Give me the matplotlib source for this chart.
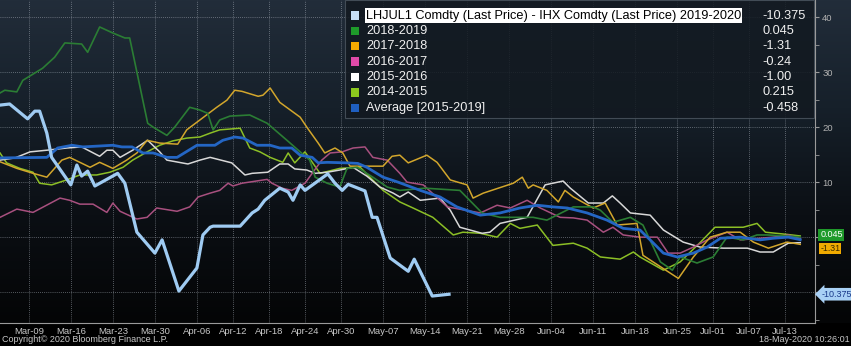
import numpy as np
import pandas as pd
import matplotlib
matplotlib.use("Agg")
import matplotlib.pyplot as plt
import matplotlib.transforms as mtransforms
from matplotlib.colors import LinearSegmentedColormap
from matplotlib.patches import Rectangle

plt.rcParams['font.family'] = ['Liberation Sans', 'DejaVu Sans']

# days are counted from Mar-09 (2020 calendar used for the season axis)
base = pd.Timestamp("2020-03-09")

# 2019-2020
d_1920 = [-4.8, -3.2, -0.2, 1, 1.8, 3, 3.8, 7, 8, 8.8, 9.8, 11, 14.8, 16, 18, 21, 22.2, 25, 28, 29,
          30.2, 30.7, 35.2, 37.2, 38.2, 39.3, 41.8, 43.2, 44, 45.2, 46, 49.8, 51, 52.2, 53.2, 56, 57.2,
          58, 60.2, 63.2, 64.2, 67.2, 70]
v_1920 = [24, 24.2, 21.5, 22.9, 22.9, 18.9, 14.5, 9.5, 13.1, 11.1, 12, 9.3, 11.6, 9.8, 0.9, -2.9, -0.5,
          -9.8, -5.6, 0.4, 1.8, 2, 2, 4.4, 5.1, 6.7, 8.9, 8.2, 6.7, 9.5, 8.5, 11.5, 9.8, 8.5, 9.6, 8.4,
          3.6, 3.6, -3.8, -6.2, -4, -10.7, -10.375]

# 2018-2019
d_1819 = [-4.8, -4, -2, -1, 2.3, 4.3, 6, 8.8, 9.8, 11.8, 14, 16, 16.8, 19.8, 20.7, 23, 24.3, 26.8, 28.5,
          29.8, 30.7, 31.8, 33.5, 36.8, 39.7, 43, 45.2, 46.8, 47.7, 49.7, 51.8, 53, 54.7, 57.3, 59.7,
          61.8, 66, 71.8, 75.5, 78.5, 84, 86.3, 90.7, 94, 95.2, 97.3, 100.2, 102.3, 105.2, 107.2, 108.5,
          111.3, 114, 116.3, 119, 121.3, 123, 126.3, 128.5]
v_1819 = [26.2, 26.7, 26.4, 28.5, 30.7, 32.7, 35.3, 35.1, 33.6, 38.2, 37.1, 36.2, 36.2, 20.7, 20, 18.5,
          20, 23.6, 23.1, 22.5, 19.5, 21.3, 22, 22.2, 20.7, 17.6, 15.5, 14, 10.9, 9.8, 9.1, 12.5, 12.7,
          10.9, 9.1, 8.5, 8.9, 8.5, 4.4, 3.6, 3.6, 3.1, 5.5, 5.5, 4.9, 2.7, 3.6, 2.2, -4.5, -6, -3.6,
          -4.7, -3.6, 0, -0.5, 0.4, 0.4, 0.2, 0.045]

# 2017-2018
d_1718 = [-4.8, -2, 0.7, 3, 5.5, 6.8, 8.5, 10.2, 11.8, 14, 16.3, 18, 19.7, 21.8, 24.8, 26.3, 28.5, 31.3,
          33, 34.3, 35.5, 38.2, 39, 40.2, 41.8, 45.2, 46.3, 48.2, 49.3, 51, 52.3, 53.5, 59, 60.5, 61.8,
          63.2, 66.3, 68, 70.2, 73, 74, 75.7, 80.7, 82.2, 83.2, 84, 86.3, 88.2, 89.3, 90.7, 94, 96, 98,
          101.3, 102.3, 108.2, 110.7, 113.5, 116.3, 118.5, 120.7, 123.2, 126.3, 128.5]
v_1718 = [13.7, 12.5, 11.6, 10.9, 14, 14.5, 13.6, 12.7, 13.6, 12.5, 14, 15.3, 17.6, 17.1, 16.9, 19.5,
          21.3, 23.6, 24.9, 26.7, 26.5, 25.6, 25.8, 27.1, 24.5, 21.8, 20, 17.1, 15.3, 16.2, 15.3, 12.9,
          12.9, 14.7, 14.9, 13.5, 14.9, 13.6, 10.4, 9.5, 7.1, 8, 9.8, 10.9, 8.9, 9.5, 8.5, 6.4, 8.5, 7.3,
          5.3, 6.2, 2.2, 2.5, -3.3, -7.5, -3.6, 0, 0.9, 0.9, -0.9, -2, -0.9, -1.31]

# 2016-2017
d_1617 = [-4.8, -2, 0.7, 5.2, 6.8, 8.5, 10.7, 13, 14, 15.2, 18, 19.7, 21.3, 24.7, 26.8, 28.2, 30.2, 31.8,
          33.2, 34, 35.5, 39.7, 40.5, 42.2, 43.8, 46, 48.8, 50.2, 52.2, 54, 56, 57.3, 59.7, 61.8, 63,
          65.7, 69.7, 75.2, 78, 80.2, 83, 85.2, 88.5, 90.7, 93, 95.7, 97.3, 99, 101.8, 104.7, 106.5,
          108.5, 110.7, 113, 116.3, 118.5, 121.8, 124, 126.5, 128.5]
v_1617 = [3.6, 5.1, 4.5, 7.1, 6.7, 6, 6, 4.5, 6.2, 4.7, 3.3, 3.6, 5.3, 4.7, 5.5, 7.3, 8, 8.5, 9.8, 9.3,
          9.8, 10.5, 9.8, 8.9, 8.5, 9.8, 14, 15.3, 15.5, 16.2, 16.4, 14.5, 14, 11.6, 10, 9.5, 5.5, 4.4,
          5.8, 5.3, 6.7, 5.3, 3.6, 3.5, 3.1, 0.9, 1.8, 0.4, 0, 0, -2.9, -2.9, -1.8, -0.5, 0.9, -0.5,
          -0.2, 0, 0.4, -0.24]

# 2015-2016
d_1516 = [-4.8, -2.3, 0.2, 3, 6.3, 8.8, 11.8, 13, 14, 15.2, 17.3, 19.8, 21.8, 23, 26.5, 28.5, 30.2, 33.8,
          36, 37.2, 39.8, 41.8, 43.2, 44.3, 46.3, 47.7, 49.7, 51.8, 54, 56.3, 58.5, 60.7, 61.8, 63.2,
          65.2, 68.5, 70.2, 71.8, 75.5, 76.8, 78.5, 83, 86, 89, 90.2, 93.2, 95.7, 97.2, 98.5, 100.2,
          103.5, 105.7, 109, 111.8, 115.7, 119.7, 121.8, 124, 126.5, 128.5]
v_1516 = [14, 14.4, 15.5, 15.8, 16.2, 16.4, 14.7, 15.8, 15.8, 14.5, 15.8, 17.6, 15.5, 14, 13.3, 14, 14.5,
          13.5, 11.3, 11.6, 11.8, 13.3, 13.3, 12.4, 12.2, 11.6, 11.8, 12.2, 12.7, 11.1, 9.1, 8, 7.3, 8.2,
          6.7, 7.1, 4.9, 1.8, 0.7, 0.9, 2.5, 3.6, 9.5, 10.2, 8.9, 6.2, 6.2, 7.5, 6.2, 4.4, 4, 1.3, -0.9,
          -1.8, -2, -2, -2.7, -2.7, -1.1, -1.0]

# 2014-2015
d_1415 = [-4.8, -3.7, -1.5, 0.7, 1.8, 3.8, 6.3, 8.5, 11.3, 13.5, 15.7, 17.3, 19.7, 21.8, 24, 26.3, 28.5,
          30.2, 31.8, 35.2, 36.8, 38.5, 40.2, 42.3, 43.2, 44.3, 46, 48.5, 51.8, 55.2, 59, 61.8, 64, 67.3,
          70.7, 72.3, 75.2, 78, 80.2, 81.8, 84.7, 87.3, 90.7, 93, 95.2, 98.5, 100.7, 101.8, 105.7, 108.5,
          111.8, 114.3, 119, 121.3, 122.7, 126.3, 128.5]
v_1415 = [15.3, 13.5, 12.5, 11.8, 9.8, 9.5, 10.4, 11.3, 11.3, 11.8, 12.7, 14, 15.5, 16.7, 17.5, 18, 18.2,
          18.9, 19.5, 19.8, 16.2, 15.5, 14.5, 13.6, 15.3, 13.5, 15.5, 11.6, 12.5, 12.7, 8.5, 6.4, 5.3,
          3.6, 0.4, 0.9, 0.7, 0, 2.5, 1.6, 2.2, -1.5, -1.1, -2, -3.6, -4, -2.7, -3.6, -6, -4.5, -1, 1.8,
          1.8, 2.5, 0.9, 0.5, 0.215]

# Average [2015-2019]
d_avg = [-4.8, 3, 4.8, 7.2, 9, 14, 15.5, 17.2, 19, 20.7, 23, 24.7, 28, 31, 32.3, 34.3, 35.7, 38, 40.2,
         41.8, 43.8, 45.2, 47.2, 48.2, 49.7, 53, 54.8, 56.3, 59, 61.5, 65.2, 68.5, 71.3, 75.2, 78.5,
         81.8, 84.7, 87.3, 89.7, 93, 96.3, 99, 101.8, 103.5, 105.7, 108, 110.7, 113, 115.2, 118.5,
         121.8, 124, 126.5, 128.5]
v_avg = [14.4, 14.5, 16.2, 16.7, 16.4, 16.7, 16.4, 16.4, 15.3, 15.3, 14.5, 14.5, 16.7, 16.7, 17.6, 18.2,
         18, 16.7, 16.7, 16.2, 16.2, 14.9, 14.5, 13.5, 13.6, 13.5, 13.4, 12.7, 10.9, 10, 8.5, 7.3, 5.5,
         4, 4.4, 5.3, 5.8, 5.5, 5.3, 4.4, 3.1, 1.6, 1.3, -0.5, -2.9, -3.6, -2.9, -1.8, -0.2, 0, -0.5,
         -0.2, 0, -0.458]

legend_names = ["LHJUL1 Comdty (Last Price) - IHX Comdty (Last Price) 2019-2020",
                "2018-2019", "2017-2018", "2016-2017", "2015-2016", "2014-2015",
                "Average [2015-2019]"]
legend_values = ["-10.375", "0.045", "-1.31", "-0.24", "-1.00", "0.215", "-0.458"]

tick_dates = ["2020-03-09", "2020-03-16", "2020-03-23", "2020-03-30", "2020-04-06", "2020-04-12",
              "2020-04-18", "2020-04-24", "2020-04-30", "2020-05-07", "2020-05-14", "2020-05-21",
              "2020-05-28", "2020-06-04", "2020-06-11", "2020-06-18", "2020-06-25", "2020-07-01",
              "2020-07-07", "2020-07-13"]
tick_labels = ["Mar-09", "Mar-16", "Mar-23", "Mar-30", "Apr-06", "Apr-12", "Apr-18", "Apr-24",
               "Apr-30", "May-07", "May-14", "May-21", "May-28", "Jun-04", "Jun-11", "Jun-18",
               "Jun-25", "Jul-01", "Jul-07", "Jul-13"]
y_ticks = [-10, 0, 10, 20, 30, 40]
y_labels = ["", "", "10", "20", "30", "40"]  # 0 and -10 sit under the last-value tags


def to_dates(days):
    return base + pd.to_timedelta(np.array(days), unit="D")


# line colour, legend square colour, width, z
series = [
    (d_1415, v_1415, '#8cbf26', '#8cc81e', 1.1, 3),
    (d_1516, v_1516, '#d8d8d8', '#ffffff', 1.1, 3),
    (d_1617, v_1617, '#a8507f', '#e04aa8', 1.1, 3),
    (d_1718, v_1718, '#d2a62c', '#f5aa00', 1.1, 3),
    (d_1819, v_1819, '#2b7d34', '#1e9a2a', 1.2, 3),
    (d_avg, v_avg, '#2466c4', '#1f5fc0', 2.0, 4),
    (d_1920, v_1920, '#9fcbf2', '#c8e0f8', 2.3, 5),
]

fig = plt.figure(figsize=(8.51, 3.46), dpi=100, facecolor='black')

# gradient background behind the plot
bg = fig.add_axes([0, 0.0665, 1, 0.9335])
bg.axis('off')
cmap = LinearSegmentedColormap.from_list("bbg", ['#040506', '#0b0f14', '#16202a', '#222d3a'])
grad = np.linspace(0, 1, 256).reshape(-1, 1)
bg.imshow(grad, aspect='auto', cmap=cmap, origin='lower', extent=[0, 1, 0, 1])

ax = fig.add_axes([0, 0.0665, 0.958, 0.9335])
ax.set_facecolor('none')

for d, v, c, lc, lw, z in series:
    ax.plot(to_dates(d), v, color=c, lw=lw, zorder=z)

ax.set_xlim(base + pd.Timedelta(days=-4.8), base + pd.Timedelta(days=131))
ax.set_ylim(-15.6, 43.1)

ax.set_xticks(pd.to_datetime(tick_dates))
ax.set_xticklabels(tick_labels)
ax.yaxis.tick_right()
ax.set_yticks(y_ticks)
ax.set_yticklabels(y_labels)
ax.set_yticks([-15, -5, 5, 15, 25, 35], minor=True)

ax.grid(True, which='major', color='#b8c0ca', linestyle=(0, (1, 1.5)), linewidth=0.6, alpha=0.6)
ax.tick_params(axis='x', length=0, pad=3, labelsize=6.8, labelcolor='#c8c8c8')
ax.tick_params(axis='y', which='both', direction='out', length=3, color='#9a9a9a',
               labelsize=6.8, labelcolor='#b0b0b0', pad=2)

for s in ['left', 'top']:
    ax.spines[s].set_visible(False)
for s in ['right', 'bottom']:
    ax.spines[s].set_color('#9a9a9a')
    ax.spines[s].set_linewidth(0.8)

# legend panel
ax.add_patch(Rectangle((0.423, 0.636), 0.575, 0.364, transform=ax.transAxes,
                       facecolor='#121920', edgecolor='#4a545e', lw=0.8, alpha=0.85, zorder=6))
legend_order = [6, 4, 3, 2, 1, 0, 5]
for i, (name, val) in enumerate(zip(legend_names, legend_values)):
    y = 0.952 - i * 0.0476
    sq_col = series[legend_order[i]][3]
    ax.add_patch(Rectangle((0.4305, y - 0.013), 0.0095, 0.026, transform=ax.transAxes,
                           facecolor=sq_col, edgecolor='none', zorder=7))
    if i == 0:
        ax.text(0.449, y, name, transform=ax.transAxes, fontsize=9.2, color='black', va='center',
                ha='left', zorder=8,
                bbox=dict(boxstyle='square,pad=0.08', facecolor='white', edgecolor='none'))
    else:
        ax.text(0.449, y, name, transform=ax.transAxes, fontsize=9.2, color='#f0f0f0', va='center',
                ha='left', zorder=8)
    ax.text(0.935, y, val, transform=ax.transAxes, fontsize=9.2, color='#f0f0f0', va='center',
            ha='left', zorder=8)

# right-hand last value tags
trans = mtransforms.blended_transform_factory(ax.transAxes, ax.transData)
ax.text(1.006, -2.0, "-1.31", transform=trans, fontsize=6.3, color='#3a2a00', va='center', ha='left',
        clip_on=False, zorder=9,
        bbox=dict(boxstyle='square,pad=0.1', facecolor='#f0aa00', edgecolor='none'))
ax.text(1.006, 0.4, "0.045", transform=trans, fontsize=6.5, color='white', va='center', ha='left',
        clip_on=False, zorder=10,
        bbox=dict(boxstyle='square,pad=0.2', facecolor='#1f9a2a', edgecolor='none'))
ax.text(1.008, -10.375, "-10.375", transform=trans, fontsize=6.5, color='#1a3a8a', va='center',
        ha='left', clip_on=False, zorder=10,
        bbox=dict(boxstyle='larrow,pad=0.2', facecolor='#a8d0f5', edgecolor='none'))

fig.text(0.002, 0.018, "Copyright\u00a9 2020 Bloomberg Finance L.P.", color='#c8c8c8', fontsize=6.5,
         ha='left', va='center')
fig.text(0.998, 0.018, "18-May-2020 10:26:01", color='#c8c8c8', fontsize=6.5, ha='right', va='center')

fig.savefig("out.png", dpi=100, facecolor='black')
